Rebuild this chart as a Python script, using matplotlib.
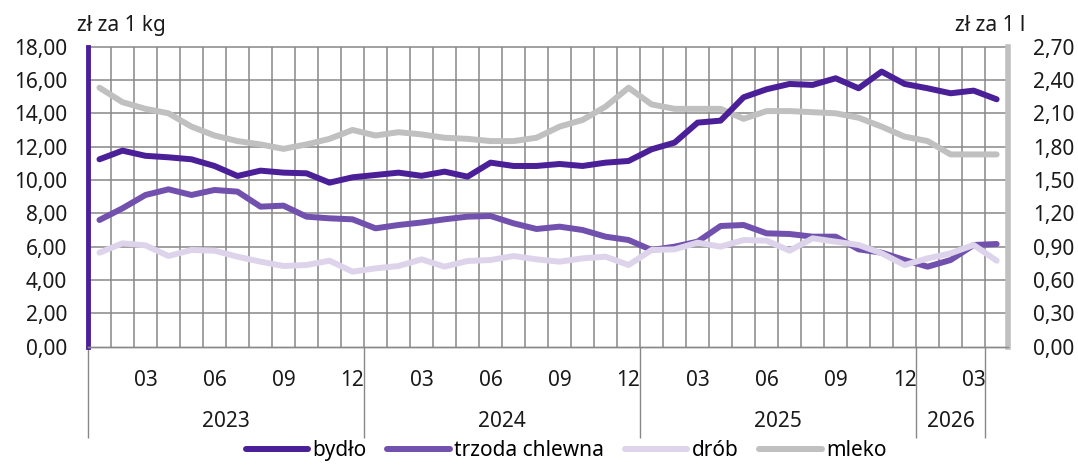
import matplotlib.pyplot as plt
from matplotlib.ticker import FixedLocator, FuncFormatter

plt.rcParams['font.family'] = ['Noto Sans', 'DejaVu Sans']

# months 2023-01 .. 2026-04
months = [m for y in range(2023, 2027) for m in range(1, 13)][:40]
years = ["2023", "2024", "2025", "2026"]

bydlo = [11.24, 11.76, 11.45, 11.36, 11.24, 10.84, 10.24, 10.56, 10.44, 10.40,
         9.84, 10.16, 10.30, 10.44, 10.25, 10.50, 10.20, 11.04, 10.84, 10.84,
         10.96, 10.84, 11.04, 11.14, 11.84, 12.24, 13.44, 13.56, 14.96, 15.44,
         15.76, 15.70, 16.10, 15.50, 16.50, 15.76, 15.50, 15.20, 15.36, 14.84]
trzoda = [7.60, 8.30, 9.10, 9.44, 9.10, 9.40, 9.30, 8.40, 8.46, 7.80,
          7.70, 7.64, 7.10, 7.30, 7.45, 7.64, 7.80, 7.84, 7.40, 7.06,
          7.20, 7.00, 6.60, 6.40, 5.80, 6.00, 6.30, 7.24, 7.30, 6.80,
          6.76, 6.60, 6.60, 5.84, 5.64, 5.20, 4.80, 5.20, 6.10, 6.16]
drob = [5.64, 6.20, 6.08, 5.44, 5.80, 5.76, 5.40, 5.10, 4.84, 4.90,
        5.16, 4.50, 4.70, 4.84, 5.24, 4.80, 5.14, 5.20, 5.44, 5.24,
        5.10, 5.30, 5.40, 4.90, 5.80, 5.84, 6.24, 6.00, 6.40, 6.36,
        5.76, 6.50, 6.30, 6.10, 5.60, 4.90, 5.30, 5.60, 6.10, 5.16]
mleko = [2.33, 2.20, 2.14, 2.10, 1.98, 1.90, 1.85, 1.82, 1.78, 1.82,
         1.87, 1.95, 1.90, 1.93, 1.91, 1.88, 1.87, 1.85, 1.85, 1.88,
         1.98, 2.04, 2.16, 2.33, 2.18, 2.14, 2.14, 2.14, 2.05, 2.12,
         2.12, 2.11, 2.10, 2.06, 1.98, 1.89, 1.85, 1.73, 1.73, 1.73]

x = list(range(len(months)))
fs = 15
txt = "#1a1a1a"
gridc = "#888888"
pos = [0.0816, 0.256, 0.8536, 0.644]

fig = plt.figure(figsize=(10.78, 4.66), dpi=100)
# bottom axes: left scale + grid
ax = fig.add_axes(pos)
ax.set_xlim(-0.5, len(x) - 0.5)
ax.set_ylim(0, 18)
left_ticks = [i * 2 for i in range(10)]
ax.set_yticks(left_ticks)
ax.yaxis.set_major_formatter(FuncFormatter(lambda v, p: f"{v:.2f}".replace(".", ",")))
major = [i for i, m in enumerate(months) if m % 3 == 0]
ax.xaxis.set_major_locator(FixedLocator(major))
ax.set_xticklabels([f"{months[i]:02d}" for i in major])

# grid: horizontal at the y ticks, vertical between month categories
ax.hlines(left_ticks[1:], -0.5, len(x) - 0.5, colors=gridc, linewidth=1.1, zorder=1,
          clip_on=False)
ax.vlines([i - 0.5 for i in range(1, len(x))], 0, 18, colors=gridc, linewidth=1.1, zorder=1,
          clip_on=False)

# middle axes: milk on right scale
ax2 = ax.twinx()
ax2.patch.set_visible(False)
ax2.set_ylim(0, 2.7)
ax2.set_yticks([i * 0.3 for i in range(10)])
ax2.yaxis.set_major_formatter(FuncFormatter(lambda v, p: f"{v:.2f}".replace(".", ",")))
l4, = ax2.plot(x, mleko, color="#c0c0c0", lw=4.3, solid_capstyle="round", label="mleko")

# top axes: meat series on left scale
ax3 = fig.add_axes(pos, sharex=ax, sharey=ax)
ax3.patch.set_visible(False)
ax3.axis("off")
l1, = ax3.plot(x, bydlo, color="#4a1f98", lw=4.3, solid_capstyle="round", label="bydło")
l2, = ax3.plot(x, trzoda, color="#7150ae", lw=4.3, solid_capstyle="round", label="trzoda chlewna")
l3, = ax3.plot(x, drob, color="#ddd4ec", lw=4.3, solid_capstyle="round", label="drób")

ax.tick_params(axis="x", which="both", length=0, pad=17, labelsize=fs, colors=txt)
ax.tick_params(axis="y", length=0, pad=15, labelsize=fs, colors=txt)
ax2.tick_params(axis="y", length=0, pad=18, labelsize=fs, colors=txt)

for a in (ax, ax2):
    a.spines["top"].set_visible(False)
    a.spines["bottom"].set_color(gridc)
    a.spines["bottom"].set_linewidth(1)
ax.spines["left"].set_color("#4a1f98")
ax.spines["left"].set_linewidth(3.5)
ax.spines["right"].set_visible(False)
ax2.spines["left"].set_visible(False)
ax2.spines["right"].set_color("#c0c0c0")
ax2.spines["right"].set_linewidth(4)

# year group separators and labels
bounds = [-0.5, 11.5, 23.5, 35.5, 38.5]
ax.vlines(bounds, 0, -0.305, transform=ax.get_xaxis_transform(), color=gridc,
          lw=1, clip_on=False)
for i, yr in enumerate(years):
    ax.text((bounds[i] + bounds[i + 1]) / 2, -0.25, yr, transform=ax.get_xaxis_transform(),
            ha="center", va="center", fontsize=fs, color=txt)

fig.text(0.071, 0.946, "zł za 1 kg", fontsize=fs, color=txt, ha="left", va="center")
fig.text(0.951, 0.946, "zł za 1 l", fontsize=fs, color=txt, ha="right", va="center")

fig.legend(handles=[l1, l2, l3, l4], loc="lower center", bbox_to_anchor=(0.525, -0.03),
           ncol=4, frameon=False, fontsize=fs, handlelength=3.0, handletextpad=0.2,
           columnspacing=1.0)

fig.savefig("out.png", dpi=100)
